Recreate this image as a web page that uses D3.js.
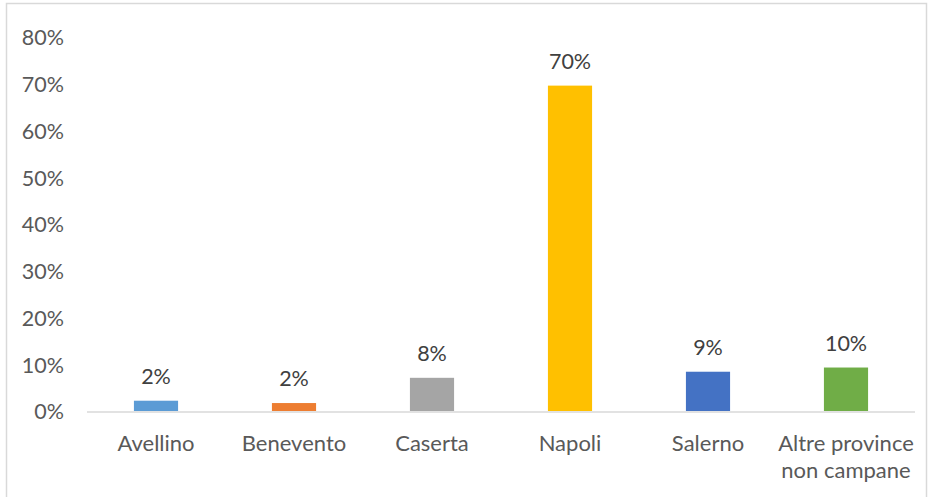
<!DOCTYPE html>
<html>
<head>
<meta charset="utf-8">
<script src="https://cdn.jsdelivr.net/npm/d3@7"></script>
<style>
  body { margin: 0; background: #fff; }
  text { font-family: Lato, "Liberation Sans", sans-serif; }
</style>
</head>
<body>
<script>
var categories = ["Avellino", "Benevento", "Caserta", "Napoli", "Salerno", "Altre province non campane"]
var values = [0.022, 0.017, 0.071, 0.696, 0.084, 0.093]
var valueLabels = ["2%", "2%", "8%", "70%", "9%", "10%"]
var colors = ["#5b9bd5", "#ed7d31", "#a5a5a5", "#ffc000", "#4472c4", "#70ad47"]
var yTicks = [0, 0.1, 0.2, 0.3, 0.4, 0.5, 0.6, 0.7, 0.8]

var width = 932,
    height = 497

var svg = d3.select("body")
  .append("svg")
  .attr("width", width)
  .attr("height", height)

// chart area border
svg.append("rect")
  .attr("x", 6.5)
  .attr("y", 3.5)
  .attr("width", 920)
  .attr("height", 500)
  .attr("fill", "none")
  .attr("stroke", "#d9d9d9")
  .attr("stroke-width", 1.5)

var x = d3.scaleBand().domain(categories).range([87, 915]).paddingInner(0.68).paddingOuter(0.34)
var y = d3.scaleLinear().domain([0, 0.8]).range([411, 37])

var yAxis = svg.append("g")
  .attr("transform", "translate(64 0)")
  .call(d3.axisLeft(y).tickValues(yTicks).tickSize(0).tickPadding(0).tickFormat(d3.format(".0%")))

yAxis.select(".domain").remove()
yAxis.selectAll("text")
  .attr("fill", "#595959")
  .style("font-size", "21.5px")
  .attr("dy", "0.36em")

svg.selectAll(".bar")
  .data(values)
  .enter().append("rect")
  .attr("class", "bar")
  .attr("x", function(d, i) { return x(categories[i]) })
  .attr("width", x.bandwidth())
  .attr("y", function(d) { return y(d) })
  .attr("height", function(d) { return y(0) - y(d) })
  .attr("fill", function(d, i) { return colors[i] })

svg.append("line")
  .attr("x1", 87)
  .attr("x2", 915)
  .attr("y1", y(0) + 1)
  .attr("y2", y(0) + 1)
  .attr("stroke", "#d9d9d9")
  .attr("stroke-width", 1.5)

svg.selectAll(".vlabel")
  .data(values)
  .enter().append("text")
  .attr("class", "vlabel")
  .attr("x", function(d, i) { return x(categories[i]) + x.bandwidth() / 2 })
  .attr("y", function(d) { return y(d) - 17 })
  .attr("text-anchor", "middle")
  .attr("fill", "#404040")
  .style("font-size", "21.5px")
  .text(function(d, i) { return valueLabels[i] })

// category labels, long one wraps on two lines
var catLines = {"Altre province non campane": ["Altre province", "non campane"]}

var catText = svg.selectAll(".cat")
  .data(categories)
  .enter().append("text")
  .attr("class", "cat")
  .attr("x", function(d) { return x(d) + x.bandwidth() / 2 })
  .attr("y", 451)
  .attr("text-anchor", "middle")
  .attr("fill", "#595959")
  .style("font-size", "22px")

catText.selectAll("tspan")
  .data(function(d) { return catLines[d] || [d] })
  .enter().append("tspan")
  .attr("x", function() { return d3.select(this.parentNode).attr("x") })
  .attr("dy", function(d, i) { return i == 0 ? 0 : 27 })
  .text(function(d) { return d })
</script>
</body>
</html>
